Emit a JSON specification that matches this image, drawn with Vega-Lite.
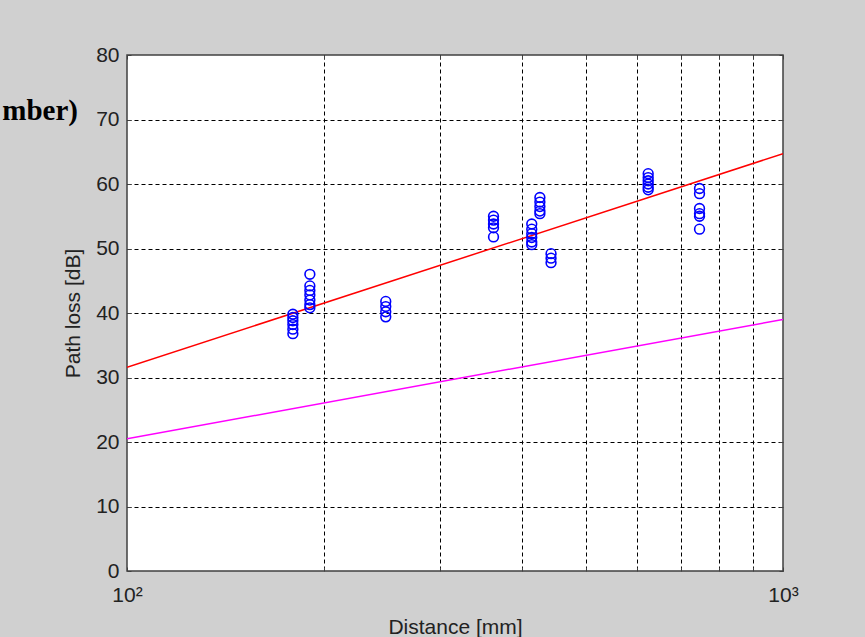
{
  "$schema": "https://vega.github.io/schema/vega-lite/v6.json",
  "width": 656,
  "height": 516,
  "autosize": {"type": "none"},
  "padding": {"left": 127, "top": 55, "right": 82, "bottom": 66},
  "background": "#d0d0d0",
  "title": {
    "text": "mber)",
    "orient": "top",
    "anchor": "start",
    "frame": "group",
    "align": "right",
    "baseline": "alphabetic",
    "dx": -49,
    "dy": 105,
    "offset": 0,
    "font": "Liberation Serif",
    "fontWeight": "bold",
    "fontSize": 29,
    "color": "#000000"
  },
  "config": {
    "view": {"fill": "white", "stroke": "#404040", "strokeWidth": 1.5},
    "axis": {
      "labelFont": "Liberation Sans",
      "titleFont": "Liberation Sans",
      "labelFontSize": 21,
      "titleFontSize": 21,
      "titleFontWeight": "normal",
      "labelColor": "#222222",
      "titleColor": "#222222",
      "tickColor": "#404040",
      "tickWidth": 1,
      "domain": false,
      "labelOverlap": false,
      "labelFlush": false
    }
  },
  "datasets": {
    "pts": [
      {"d": 179, "pl": 36.8}, {"d": 179, "pl": 37.5}, {"d": 179, "pl": 38.2}, {"d": 179, "pl": 38.8}, {"d": 179, "pl": 39.3}, {"d": 179, "pl": 39.8},
      {"d": 190, "pl": 40.8}, {"d": 190, "pl": 41.3}, {"d": 190, "pl": 42.0}, {"d": 190, "pl": 42.8}, {"d": 190, "pl": 43.5}, {"d": 190, "pl": 44.2}, {"d": 190, "pl": 46.0},
      {"d": 248, "pl": 39.4}, {"d": 248, "pl": 40.2}, {"d": 248, "pl": 41.0}, {"d": 248, "pl": 41.8},
      {"d": 362, "pl": 51.8}, {"d": 362, "pl": 53.2}, {"d": 362, "pl": 53.8}, {"d": 362, "pl": 54.4}, {"d": 362, "pl": 55.0},
      {"d": 414, "pl": 50.6}, {"d": 414, "pl": 51.0}, {"d": 414, "pl": 51.7}, {"d": 414, "pl": 52.3}, {"d": 414, "pl": 53.0}, {"d": 414, "pl": 53.8},
      {"d": 426, "pl": 55.4}, {"d": 426, "pl": 55.8}, {"d": 426, "pl": 56.5}, {"d": 426, "pl": 57.2}, {"d": 426, "pl": 57.9},
      {"d": 443, "pl": 47.8}, {"d": 443, "pl": 48.5}, {"d": 443, "pl": 49.2},
      {"d": 623, "pl": 59.1}, {"d": 623, "pl": 59.5}, {"d": 623, "pl": 60.0}, {"d": 623, "pl": 60.5}, {"d": 623, "pl": 61.0}, {"d": 623, "pl": 61.6},
      {"d": 746, "pl": 53.0}, {"d": 746, "pl": 55.0}, {"d": 746, "pl": 55.4}, {"d": 746, "pl": 56.2}, {"d": 746, "pl": 58.5}, {"d": 746, "pl": 59.3}
    ],
    "lines": [
      {"series": "fit", "d": 100, "pl": 31.6},
      {"series": "fit", "d": 1000, "pl": 64.7},
      {"series": "free", "d": 100, "pl": 20.5},
      {"series": "free", "d": 1000, "pl": 39.0}
    ]
  },
  "resolve": {"axis": {"x": "independent", "y": "independent"}},
  "layer": [
    {
      "data": {"name": "lines"},
      "mark": {"type": "line", "strokeWidth": 1.5, "clip": true},
      "encoding": {
        "x": {
          "field": "d", "type": "quantitative",
          "scale": {"type": "log", "domain": [100, 1000], "nice": false},
          "axis": {
            "orient": "bottom",
            "title": "Distance [mm]",
            "values": [100, 200, 300, 400, 500, 600, 700, 800, 900, 1000],
            "labelExpr": "datum.value == 100 ? '10²' : datum.value == 1000 ? '10³' : ''",
            "grid": true,
            "gridColor": "#000000",
            "gridDash": [4, 3],
            "gridWidth": 1,
            "gridOpacity": {"condition": {"test": "datum.value == 100 || datum.value == 1000", "value": 0}, "value": 1},
            "tickSize": -4,
            "labelPadding": 17,
            "titlePadding": 11
          }
        },
        "y": {
          "field": "pl", "type": "quantitative",
          "scale": {"domain": [0, 80], "nice": false},
          "axis": {
            "orient": "left",
            "title": "Path loss [dB]",
            "values": [0, 10, 20, 30, 40, 50, 60, 70, 80],
            "grid": true,
            "gridColor": "#000000",
            "gridDash": [4, 3],
            "gridWidth": 1,
            "gridOpacity": {"condition": {"test": "datum.value == 0 || datum.value == 80", "value": 0}, "value": 1},
            "tickSize": -4,
            "labelPadding": 12,
            "titlePadding": 12
          }
        },
        "color": {
          "field": "series", "type": "nominal",
          "scale": {"domain": ["fit", "free"], "range": ["#ff0000", "#ff00ff"]},
          "legend": null
        },
        "detail": {"field": "series"}
      }
    },
    {
      "data": {"name": "pts"},
      "mark": {"type": "point", "shape": "circle", "filled": false, "size": 95, "strokeWidth": 1.6, "color": "#0000ff", "opacity": 1},
      "encoding": {
        "x": {
          "field": "d", "type": "quantitative",
          "scale": {"type": "log", "domain": [100, 1000], "nice": false},
          "axis": {
            "orient": "top",
            "title": null,
            "labels": false,
            "grid": false,
            "values": [100, 200, 300, 400, 500, 600, 700, 800, 900, 1000],
            "tickSize": -4
          }
        },
        "y": {
          "field": "pl", "type": "quantitative",
          "scale": {"domain": [0, 80], "nice": false},
          "axis": {
            "orient": "right",
            "title": null,
            "labels": false,
            "grid": false,
            "values": [0, 10, 20, 30, 40, 50, 60, 70, 80],
            "tickSize": -4
          }
        }
      }
    }
  ]
}
